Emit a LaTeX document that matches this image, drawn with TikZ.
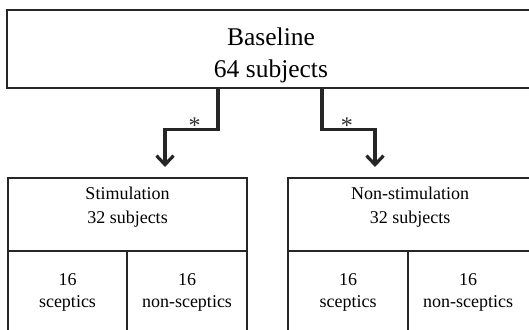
\documentclass[tikz,border=0pt]{standalone}
\usepackage{fontspec}
\setmainfont{Liberation Serif}
\usetikzlibrary{arrows.meta}

\begin{document}
\begin{tikzpicture}[x=1pt,y=-1pt,
  box/.style={draw=black!85,line width=1.6pt,inner sep=0pt},
  flow/.style={draw=black!85,line width=3.2pt,-{Straight Barb[length=9pt,width=17pt]}},
  big/.style={font=\fontsize{25.5}{32}\selectfont,align=center,anchor=base,inner sep=0pt},
  small/.style={font=\fontsize{18}{24}\selectfont,align=center,anchor=base,inner sep=0pt},
  cell/.style={small,font=\fontsize{18}{22}\selectfont},
  star/.style={font=\fontsize{24}{24}\selectfont,text=black!80,anchor=base,inner sep=0pt,yshift=-4pt}]
\useasboundingbox (0,0) rectangle (529,329);
\clip (0,0) rectangle (529,329);

% top box, text anchored on the last line
\node[box,minimum width=528pt,minimum height=78pt] (base) at (271,49) {};
\node[big] (base-txt) at (271,77) {Baseline\\64 subjects};

\foreach \g/\x/\w/\d/\name in {stim/127.5/239/127/Stimulation,non/410/244/408/Non-stimulation}{
    \node[box,minimum width=\w pt,minimum height=170pt] (\g) at (\x,263) {};
    \node[small] (\g-txt) at (\x,223) {\name\\32 subjects};
    \draw[box] ([yshift=-74pt]\g.north west) -- ([yshift=-74pt]\g.north east);
    \draw[box] (\d,252) -- (\d,350);
}

\node[cell] (stim-s) at (67.5,307) {16\\sceptics};
\node[cell] (stim-n) at (187,307) {16\\non-sceptics};
\node[cell] (non-s) at (348,307) {16\\sceptics};
\node[cell] (non-n) at (468,307) {16\\non-sceptics};

\coordinate (stim-in) at (165,167);
\coordinate (non-in) at (375,167);
\draw[flow] ([xshift=-53pt]base.south) -- ++(0,41) -| node[star,pos=0.22] {*} (stim-in);
\draw[flow] ([xshift=51pt]base.south) -- ++(0,41) -| node[star,pos=0.235] {*} (non-in);

\end{tikzpicture}
\end{document}
